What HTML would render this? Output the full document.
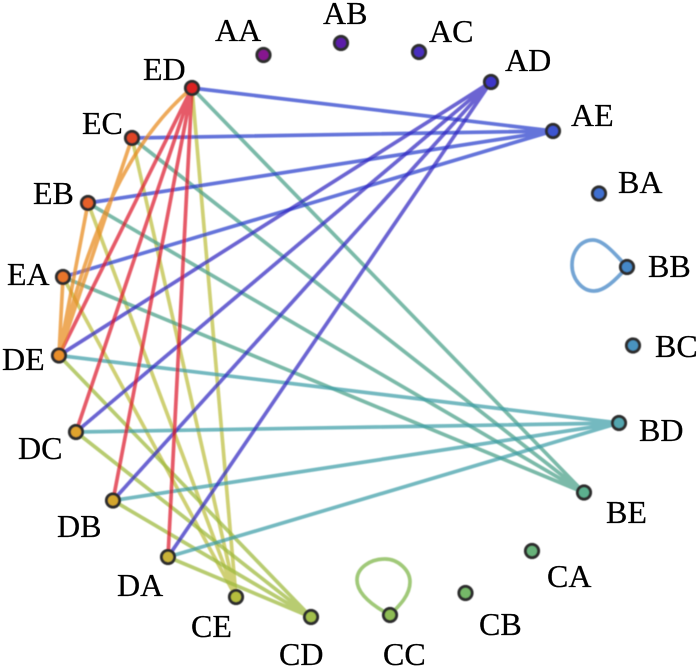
<!DOCTYPE html>
<html><head><meta charset="utf-8"><style>
html,body{margin:0;padding:0;background:#fff;width:700px;height:667px;overflow:hidden}
svg{display:block}
text{font-family:"Liberation Serif",serif;font-size:32px;fill:#000;stroke:#000;stroke-width:.25px}
</style></head><body>
<svg width="700" height="667" viewBox="0 0 700 667" xmlns="http://www.w3.org/2000/svg">
<defs><filter id="b" x="-5%" y="-5%" width="110%" height="110%"><feGaussianBlur stdDeviation="0.4"/></filter>
<filter id="t" x="-5%" y="-5%" width="110%" height="110%"><feGaussianBlur stdDeviation="0.3"/></filter></defs>
<g filter="url(#b)">
<g fill="none" stroke-width="3.7" stroke-linecap="round" stroke-opacity="0.72">
<g stroke="#bcbe40">
<path d="M192 88L236 597M132 138L236 597M88 203L236 597M63 277L236 597"/>
</g>
<g stroke="#9cb83c">
<path d="M59 355.500L311 617M76 432L311 617M113 500.500L311 617M168 557L311 617"/>
</g>
<g stroke="#4aa088">
<path d="M192 88L584 492.500M132 138L584 492.500M88 203L584 492.500M63 277L584 492.500"/>
</g>
<g stroke="#3f9ea8">
<path d="M59 355.500L619 423M76 432L619 423M113 500.500L619 423M168 557L619 423"/>
</g>
<g stroke="#2a3fcc">
<path d="M192 88L553 131M132 138L553 131M88 203L553 131M63 277L553 131"/>
</g>
<g stroke="#3028c0">
<path d="M59 355.500L491 82M76 432L491 82M113 500.500L491 82M168 557L491 82"/>
</g>
<g stroke="#dc1c2c">
<path d="M192 88L59 355.500M192 88L76 432M192 88L113 500.500M192 88L168 557"/>
</g>
<g stroke="#e8891e">
<path d="M192 88C130 140 90 228 59 355.500M132 138L59 355.500M88 203L59 355.500M63 277L59 355.500"/>
</g>
<path stroke="#3d82c4" d="M627 267C612 250 602 240 593 240C580 240 572 252 572 265C572 279 582 291 594 291C604 291 615 281 627 267"/>
<path stroke="#7cb444" d="M390 615C375 607 357 595 357 580C357 568 370 559 385 559C398 559 410 570 410 582C410 595 400 605 390 615"/>
</g>
<g stroke="#2e2e2e" stroke-width="3">
<circle cx="263.500" cy="55" r="6.600" fill="#86198f"/>
<circle cx="341" cy="43" r="6.600" fill="#5b1fa8"/>
<circle cx="419" cy="52" r="6.600" fill="#4a2dbd"/>
<circle cx="491" cy="82" r="6.600" fill="#3c35c8"/>
<circle cx="553" cy="131" r="6.600" fill="#3d55d0"/>
<circle cx="599" cy="193.500" r="6.600" fill="#3f6fd0"/>
<circle cx="627" cy="267" r="6.600" fill="#4488c8"/>
<circle cx="633" cy="345.500" r="6.600" fill="#4a93c0"/>
<circle cx="619" cy="423" r="6.600" fill="#52a5ae"/>
<circle cx="584" cy="492.500" r="6.600" fill="#5cb08e"/>
<circle cx="532" cy="551" r="6.600" fill="#68b27a"/>
<circle cx="465.500" cy="593" r="6.600" fill="#75b868"/>
<circle cx="390" cy="615" r="6.600" fill="#8ebc55"/>
<circle cx="311" cy="617" r="6.600" fill="#a2bf4c"/>
<circle cx="236" cy="597" r="6.600" fill="#b5bd3d"/>
<circle cx="168" cy="557" r="6.600" fill="#c9b237"/>
<circle cx="113" cy="500.500" r="6.600" fill="#d4a62f"/>
<circle cx="76" cy="432" r="6.600" fill="#e0a32e"/>
<circle cx="59" cy="355.500" r="6.600" fill="#e88e2c"/>
<circle cx="63" cy="277" r="6.600" fill="#e8752a"/>
<circle cx="88" cy="203" r="6.600" fill="#e5602a"/>
<circle cx="132" cy="138" r="6.600" fill="#e04428"/>
<circle cx="192" cy="88" r="6.600" fill="#dc2020"/>
</g>
</g>
<g filter="url(#t)">
<text x="215" y="41">AA</text>
<text x="323" y="24">AB</text>
<text x="429" y="42">AC</text>
<text x="505" y="71">AD</text>
<text x="571" y="126">AE</text>
<text x="618" y="193">BA</text>
<text x="648" y="277">BB</text>
<text x="655" y="357">BC</text>
<text x="639" y="441">BD</text>
<text x="606" y="523">BE</text>
<text x="547" y="587">CA</text>
<text x="479" y="635">CB</text>
<text x="383" y="665">CC</text>
<text x="279" y="665">CD</text>
<text x="191" y="637">CE</text>
<text x="117" y="596">DA</text>
<text x="57" y="537">DB</text>
<text x="18" y="459">DC</text>
<text x="2" y="370">DE</text>
<text x="7" y="285">EA</text>
<text x="33" y="204">EB</text>
<text x="82" y="134">EC</text>
<text x="143" y="80">ED</text>
</g>
</svg>
</body></html>
